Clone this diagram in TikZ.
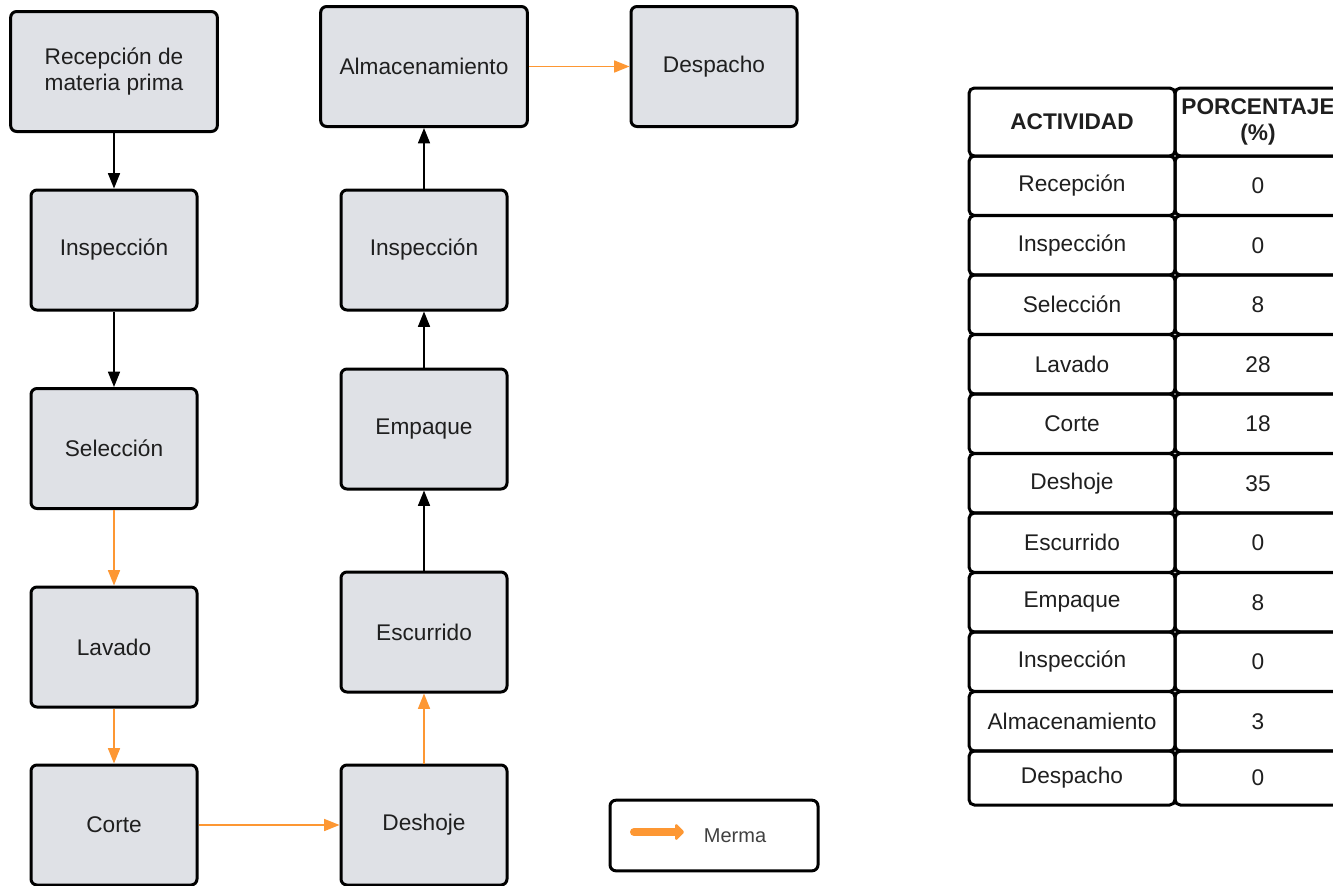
\documentclass[tikz,border=0pt]{standalone}
\usepackage{fontspec}
\setmainfont{Liberation Sans}
\usetikzlibrary{arrows.meta}
\definecolor{boxgray}{RGB}{223,225,230}
\definecolor{merma}{RGB}{253,151,51}
\tikzset{
  proc/.style={draw=black,line width=2.25pt,rounded corners=4.5pt,fill=boxgray,
    minimum width=124.5pt,minimum height=90pt,inner sep=0pt,align=center,
    text=black!88,font=\fontsize{17}{19.5}\selectfont},
  wideproc/.style={proc,minimum width=155pt},
  flow/.style={line width=1.1pt,-{Triangle[length=11.5pt,width=9pt]}},
  lossflow/.style={flow,draw=merma,fill=merma},
  cell/.style={draw=black,line width=2.25pt,rounded corners=4pt,inner sep=0pt,
    minimum width=154.5pt,minimum height=44.6pt,align=center,
    text=black!88,font=\fontsize{17}{20}\selectfont},
  valcell/.style={cell,minimum width=124.5pt},
  headcell/.style={cell,minimum height=51pt,font=\fontsize{17}{20}\selectfont\bfseries}
}
\begin{document}
\begin{tikzpicture}[x=0.75pt,y=-0.75pt]
  \clip (0,0) rectangle (1333,885);
  \fill[white] (0,0) rectangle (1333,885);

  % flujo del proceso
  \node[wideproc] (recep) at (114,71.5) {Recepción de\\materia prima};
  \node[proc] (insp1) at (114,250) {Inspección};
  \node[proc] (selec) at (114,448.5) {Selección};
  \node[proc] (lavado) at (114,647) {Lavado};
  \node[proc] (corte) at (114,825) {Corte};
  \node[proc] (deshoje) at (424,825) {Deshoje};
  \node[proc] (escurr) at (424,632) {Escurrido};
  \node[proc] (empaque) at (424,429) {Empaque};
  \node[proc] (insp2) at (424,250) {Inspección};
  \node[wideproc] (almac) at (424,66.5) {Almacenamiento};
  \node[proc] (desp) at (714,66.5) {Despacho};

  \draw[flow] (recep) -- (insp1);
  \draw[flow] (insp1) -- (selec);
  \draw[lossflow] (selec) -- (lavado);
  \draw[lossflow] (lavado) -- (corte);
  \draw[lossflow] (corte) -- (deshoje);
  \draw[lossflow] (deshoje) -- (escurr);
  \draw[flow] (escurr) -- (empaque);
  \draw[flow] (empaque) -- (insp2);
  \draw[flow] (insp2) -- (almac);
  \draw[lossflow] (almac) -- (desp);

  % leyenda
  \node[draw=black,line width=2.25pt,rounded corners=4.5pt,fill=white,
    minimum width=156pt,minimum height=53pt] (leyenda) at (714,835.5) {};
  \coordinate (ma) at (634,832);
  \coordinate (mb) at (684,832);
  \draw[merma,line width=6pt,line cap=round,-{Triangle[round,length=7pt,width=14pt]}] (ma) -- (mb);
  \node[text=black!75,font=\fontsize{15}{18}\selectfont] (mermatxt) at (735,836) {Merma};

  % tabla de mermas
  \node[headcell] (h1) at (1072,122) {ACTIVIDAD};
  \node[headcell,minimum width=124.5pt] (h2) at (1258,122) {PORCENTAJE\\(\%)};
  \node[cell] (a1) at (1072,185.75) {Recepción};
  \node[valcell] (p1) at (1258,185.75) {0};
  \node[cell] (a2) at (1072,245.25) {Inspección};
  \node[valcell] (p2) at (1258,245.25) {0};
  \node[cell] (a3) at (1072,304.75) {Selección};
  \node[valcell] (p3) at (1258,304.75) {8};
  \node[cell] (a4) at (1072,364.25) {Lavado};
  \node[valcell] (p4) at (1258,364.25) {28};
  \node[cell] (a5) at (1072,423.75) {Corte};
  \node[valcell] (p5) at (1258,423.75) {18};
  \node[cell] (a6) at (1072,483.25) {Deshoje};
  \node[valcell] (p6) at (1258,483.25) {35};
  \node[cell] (a7) at (1072,542.75) {Escurrido};
  \node[valcell] (p7) at (1258,542.75) {0};
  \node[cell] (a8) at (1072,602.25) {Empaque};
  \node[valcell] (p8) at (1258,602.25) {8};
  \node[cell] (a9) at (1072,661.75) {Inspección};
  \node[valcell] (p9) at (1258,661.75) {0};
  \node[cell] (a10) at (1072,721.25) {Almacenamiento};
  \node[valcell] (p10) at (1258,721.25) {3};
  \node[cell,minimum height=40.5pt] (a11) at (1072,778) {Despacho};
  \node[valcell,minimum height=40.5pt] (p11) at (1258,778) {0};
\end{tikzpicture}
\end{document}
